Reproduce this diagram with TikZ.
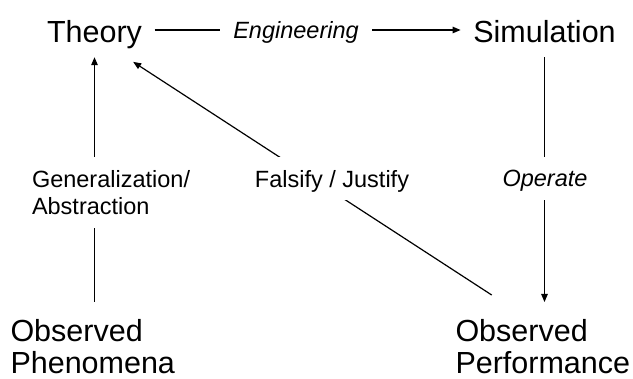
\documentclass[tikz,border=0pt]{standalone}
\usepackage{fontspec}
\setmainfont{Liberation Sans}
\usetikzlibrary{arrows.meta}

\begin{document}
\begin{tikzpicture}[x=1pt,y=-1pt,
  every node/.style={text=black},
  bigfont/.style={font=\fontsize{30.5}{31.8}\selectfont},
  smallfont/.style={font=\fontsize{23.5}{27.7}\selectfont},
  topbox/.style={bigfont, anchor=base, text height=26pt, text depth=0pt,
                 inner xsep=12.5pt, inner ysep=14pt},
  bottombox/.style={bigfont, anchor=north west, align=left,
                    inner sep=0pt, outer sep=17.5pt},
  edgelabel/.style={smallfont, fill=white},
  link/.style={line width=1.2pt, draw=black},
  arrowlink/.style={link, -{Triangle[length=8pt,width=6.5pt]}}
]
\useasboundingbox (0,0) rectangle (633,379);

% main concepts
\node[topbox] (theory) at (94.5,43) {Theory};
\node[topbox] (sim) at (544.5,43) {Simulation};
\node[bottombox] (phen) at (-7,302) {Observed\\Phenomena};
\node[bottombox] (perf) at (438,302) {Observed\\Performance};

% connectors
\draw[arrowlink] (theory.east) -- (sim.west);
\draw[arrowlink] (sim.south) -- (sim.south |- perf.north);
\draw[arrowlink] (phen.north -| theory.south) -- (theory.south);
\draw[arrowlink] ([xshift=53.7pt,yshift=7pt]perf.north west)
  -- ([xshift=-21.5pt,yshift=-4.7pt]theory.south east);

% labels sitting on the connectors
\node[edgelabel, anchor=base, inner xsep=13.65pt,
      font=\fontsize{23.5}{27.7}\selectfont\itshape] (eng) at (296,38.5) {Engineering};
\node[edgelabel, anchor=base, text height=17pt, text depth=0pt, inner ysep=13pt,
      font=\fontsize{23.5}{27.7}\selectfont\itshape] (op) at (545,187) {Operate};
\node[edgelabel, anchor=base, text height=24.6pt, text depth=6.7pt, inner ysep=6pt]
      (fj) at (332,187.3) {Falsify / Justify};
\node[edgelabel, anchor=north west, align=left, inner xsep=0pt, inner ysep=13pt]
      (gen) at (31.8,157) {Generalization/\\Abstraction};
\end{tikzpicture}
\end{document}
